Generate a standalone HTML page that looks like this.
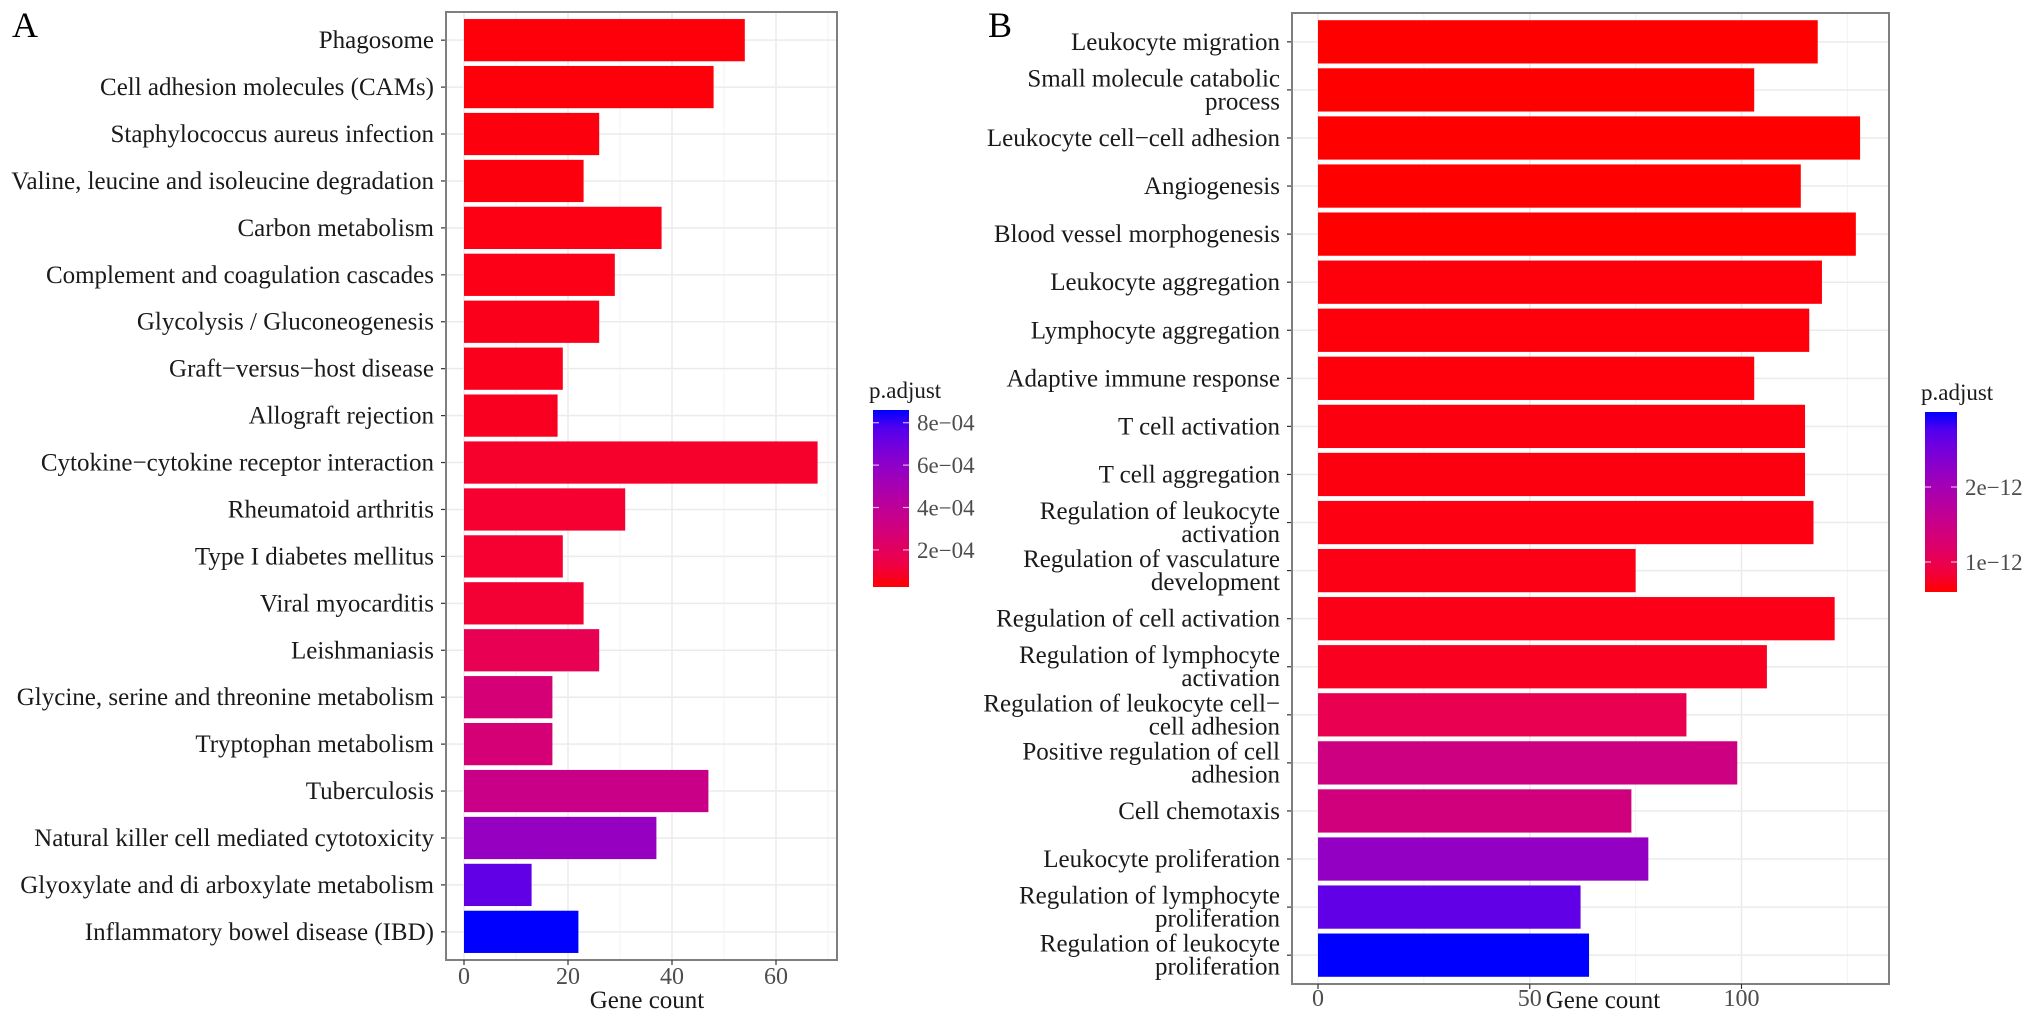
<!DOCTYPE html>
<html><head><meta charset="utf-8"><style>
body{margin:0;background:#fff}
svg{display:block;font-family:"Liberation Serif",serif}
</style></head><body>
<svg id="chart" width="2031" height="1019" viewBox="0 0 2031 1019" xmlns="http://www.w3.org/2000/svg"></svg>
<script>
const catsA=["Phagosome","Cell adhesion molecules (CAMs)","Staphylococcus aureus infection","Valine, leucine and isoleucine degradation","Carbon metabolism","Complement and coagulation cascades","Glycolysis / Gluconeogenesis","Graft\u2212versus\u2212host disease","Allograft rejection","Cytokine\u2212cytokine receptor interaction","Rheumatoid arthritis","Type I diabetes mellitus","Viral myocarditis","Leishmaniasis","Glycine, serine and threonine metabolism","Tryptophan metabolism","Tuberculosis","Natural killer cell mediated cytotoxicity","Glyoxylate and di  arboxylate metabolism","Inflammatory bowel disease (IBD)"];
const countsA=[54,48,26,23,38,29,26,19,18,68,31,19,23,26,17,17,47,37,13,22];
const padjA=[0.3e-4,0.3e-4,0.35e-4,0.35e-4,0.4e-4,0.45e-4,0.5e-4,0.55e-4,0.6e-4,0.8e-4,0.9e-4,0.9e-4,1.0e-4,1.7e-4,2.8e-4,2.8e-4,3.4e-4,5.7e-4,7.4e-4,8.6e-4];
const ticksA=[0,20,40,60];
const legTicksA=[2e-4,4e-4,6e-4,8e-4];
const legLabelsA=["2e\u221204","4e\u221204","6e\u221204","8e\u221204"];

const catsB=[["Leukocyte migration"],["Small molecule catabolic","process"],["Leukocyte cell\u2212cell adhesion"],["Angiogenesis"],["Blood vessel morphogenesis"],["Leukocyte aggregation"],["Lymphocyte aggregation"],["Adaptive immune response"],["T cell activation"],["T cell aggregation"],["Regulation of leukocyte","activation"],["Regulation of vasculature","development"],["Regulation of cell activation"],["Regulation of lymphocyte","activation"],["Regulation of leukocyte cell\u2212","cell adhesion"],["Positive regulation of cell","adhesion"],["Cell chemotaxis"],["Leukocyte proliferation"],["Regulation of lymphocyte","proliferation"],["Regulation of leukocyte","proliferation"]];
const countsB=[118,103,128,114,127,119,116,103,115,115,117,75,122,106,87,99,74,78,62,64];
const padjB=[0.6e-12,0.6e-12,0.6e-12,0.6e-12,0.6e-12,0.62e-12,0.62e-12,0.62e-12,0.63e-12,0.63e-12,0.64e-12,0.65e-12,0.66e-12,0.7e-12,1.0e-12,1.45e-12,1.4e-12,2.2e-12,2.65e-12,3.0e-12];
const ticksB=[0,50,100];
const legTicksB=[1e-12,2e-12];
const legLabelsB=["1e\u221212","2e\u221212"];

const NS="http://www.w3.org/2000/svg";
const svg=document.getElementById('chart');
function mk(tag,attrs,parent){const e=document.createElementNS(NS,tag);for(const k in attrs)e.setAttribute(k,attrs[k]);(parent||svg).appendChild(e);return e;}
function col(t){t=Math.max(0,Math.min(1,t));const r=Math.round(255*Math.sqrt(1-t)),b=Math.round(255*Math.pow(t,0.65));return `rgb(${r},0,${b})`;}

function panel(o){
  const g=mk('g',{});
  
  
  const n=o.cats.length, slot=(o.bottom-o.top)/(n+0.2);
  const x=v=>o.x0+v*o.px;
  const yc=i=>o.top+(0.6+i)*slot;
  const lo=o.lo,hi=o.hi;
  for(let i=0;i<o.minor.length;i++){const gl=mk('line',{x1:x(o.minor[i]),x2:x(o.minor[i]),y1:o.top,y2:o.bottom,stroke:'#f3f3f3','stroke-width':1},g);}
  for(let i=0;i<o.ticks.length;i++){const gl=mk('line',{x1:x(o.ticks[i]),x2:x(o.ticks[i]),y1:o.top,y2:o.bottom,stroke:'#ebebeb','stroke-width':1.5},g);}
  for(let i=0;i<n;i++){const gl=mk('line',{x1:o.left,x2:o.right,y1:yc(i),y2:yc(i),stroke:'#ebebeb','stroke-width':1.5},g);}
  for(let i=0;i<n;i++){
    const t=(o.p[i]-lo)/(hi-lo);
    const r=mk('rect',{x:x(0),y:yc(i)-slot*0.45,width:x(o.counts[i])-x(0),height:slot*0.9,fill:col(t)},g);
    
    
    mk('line',{x1:o.left-5,x2:o.left,y1:yc(i),y2:yc(i),stroke:'#333','stroke-width':1.2},g);
    const lines=Array.isArray(o.cats[i])?o.cats[i]:[o.cats[i]];
    lines.forEach((s,k)=>{
      const tx=mk('text',{x:o.left-12,y:yc(i)+8+(k-(lines.length-1)/2)*23,'text-anchor':'end','font-size':25,fill:'#1a1a1a'},g);
      tx.textContent=s;
      
      
    });
  }
  const fr=mk('rect',{x:o.left,y:o.top,width:o.right-o.left,height:o.bottom-o.top,fill:'none',stroke:'#7f7f7f','stroke-width':2},g);
  
  
  for(let i=0;i<o.ticks.length;i++){
    mk('line',{x1:x(o.ticks[i]),x2:x(o.ticks[i]),y1:o.bottom,y2:o.bottom+5,stroke:'#333','stroke-width':1.2},g);
    const tx=mk('text',{x:x(o.ticks[i]),y:o.bottom+o.tickDy,'text-anchor':'middle','font-size':24,fill:'#4d4d4d'},g);
    tx.textContent=o.ticks[i];
    
    
  }
  const at=mk('text',{x:o.titleX,y:1008,'text-anchor':'middle','font-size':25,fill:'#1a1a1a'},g);
  at.textContent='Gene  count';
  
  
  const L=o.leg;
  const lt=mk('text',{x:L.x-4,y:L.top-12,'font-size':23,fill:'#1a1a1a'},g);
  lt.textContent='p.adjust';
  
  
  const gid='grad'+o.name;
  const lg=mk('linearGradient',{id:gid,x1:0,y1:1,x2:0,y2:0},mk('defs',{},g));
  for(let k=0;k<=10;k++)mk('stop',{offset:k/10,'stop-color':col(k/10)},lg);
  const cb=mk('rect',{x:L.x,y:L.top,width:L.w,height:L.bottom-L.top,fill:`url(#${gid})`},g);
  
  
  const ly=v=>L.bottom-(v-lo)/(hi-lo)*(L.bottom-L.top);
  for(let k=0;k<o.legTicks.length;k++){
    const yy=ly(o.legTicks[k]);
    mk('line',{x1:L.x,x2:L.x+6,y1:yy,y2:yy,stroke:'#fff','stroke-width':1.2,opacity:0.7},g);
    mk('line',{x1:L.x+L.w-6,x2:L.x+L.w,y1:yy,y2:yy,stroke:'#fff','stroke-width':1.2,opacity:0.7},g);
    const tx=mk('text',{x:L.x+L.w+8,y:yy+8,'font-size':23,fill:'#4d4d4d'},g);
    tx.textContent=o.legLabels[k];
    
    
  }
  const pl=mk('text',{x:o.letterX,y:37,'font-size':36,fill:'#000'},g);
  pl.textContent=o.letter;
  
  
}
panel({name:'panel-a',letter:'A',letterX:12,cats:catsA,counts:countsA,p:padjA,ticks:ticksA,minor:[10,30,50,70],left:446,right:837,top:12,bottom:960,x0:464,px:5.2,lo:0.25e-4,hi:8.6e-4,titleX:647,tickDy:24,
  leg:{x:873,w:36,top:410,bottom:587},legTicks:legTicksA,legLabels:legLabelsA});
panel({name:'panel-b',letter:'B',letterX:988,cats:catsB,counts:countsB,p:padjB,ticks:ticksB,minor:[25,75,125],left:1292,right:1889,top:13,bottom:984,x0:1318,px:4.235,lo:0.6e-12,hi:3.0e-12,titleX:1603,tickDy:22,
  leg:{x:1925,w:32,top:412,bottom:592},legTicks:legTicksB,legLabels:legLabelsB});
</script>
</body></html>
